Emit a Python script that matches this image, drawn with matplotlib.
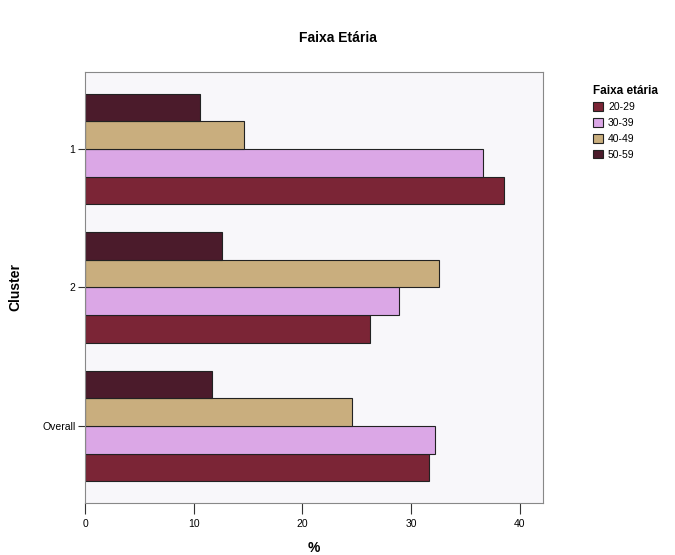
import matplotlib
matplotlib.use("Agg")
import matplotlib.pyplot as plt
import numpy as np

plt.rcParams['font.family'] = ['Liberation Sans', 'DejaVu Sans']

clusters = ["1", "2", "Overall"]
age_groups = ["20-29", "30-39", "40-49", "50-59"]
values = {
    "20-29": [38.5, 26.2, 31.6],
    "30-39": [36.6, 28.9, 32.2],
    "40-49": [14.6, 32.6, 24.6],
    "50-59": [10.6, 12.6, 11.7],
}
colors = {
    "20-29": "#7b2536",
    "30-39": "#dba7e6",
    "40-49": "#c9ae7e",
    "50-59": "#4b1b2b",
}
offsets = {"20-29": 1.5, "30-39": 0.5, "40-49": -0.5, "50-59": -1.5}

fig = plt.figure(figsize=(6.75, 5.55), dpi=100)
ax = fig.add_axes([0.126, 0.094, 0.678, 0.776])
ax.set_facecolor("#f8f7fa")

centers = np.arange(len(clusters)) * 5.0
for g in age_groups:
    ax.barh(centers + offsets[g], values[g], height=1.0, color=colors[g],
            edgecolor="#222222", linewidth=0.8, label=g)

ax.set_yticks(centers)
ax.set_yticklabels(clusters)
ax.set_ylim(12.78, -2.78)
ax.set_xlim(0, 42.1)
ax.set_xticks([0, 10, 20, 30, 40])
ax.tick_params(axis='both', labelsize=7.5, direction='out', color="#333333")
ax.tick_params(axis='x', length=8, pad=4)
ax.tick_params(axis='y', length=5, pad=2)
for s in ax.spines.values():
    s.set_color("#888888")
    s.set_linewidth(0.8)

ax.set_xlabel("%", fontsize=10, fontweight='bold', labelpad=8)
ax.set_ylabel("Cluster", fontsize=10, fontweight='bold', labelpad=14)
fig.suptitle("Faixa Etária", fontsize=10, fontweight='bold', y=0.945, x=0.5)

handles, labels = ax.get_legend_handles_labels()
leg = fig.legend(handles, labels, title="Faixa etária", loc='upper left',
                 bbox_to_anchor=(0.873, 0.855), frameon=False, fontsize=7.5,
                 handlelength=0.9, handleheight=0.9, handletextpad=0.5,
                 labelspacing=0.55, borderaxespad=0)
leg.get_title().set_fontweight('bold')
leg.get_title().set_fontsize(8.5)
leg._legend_box.align = "left"

fig.savefig("out.png", dpi=100)
